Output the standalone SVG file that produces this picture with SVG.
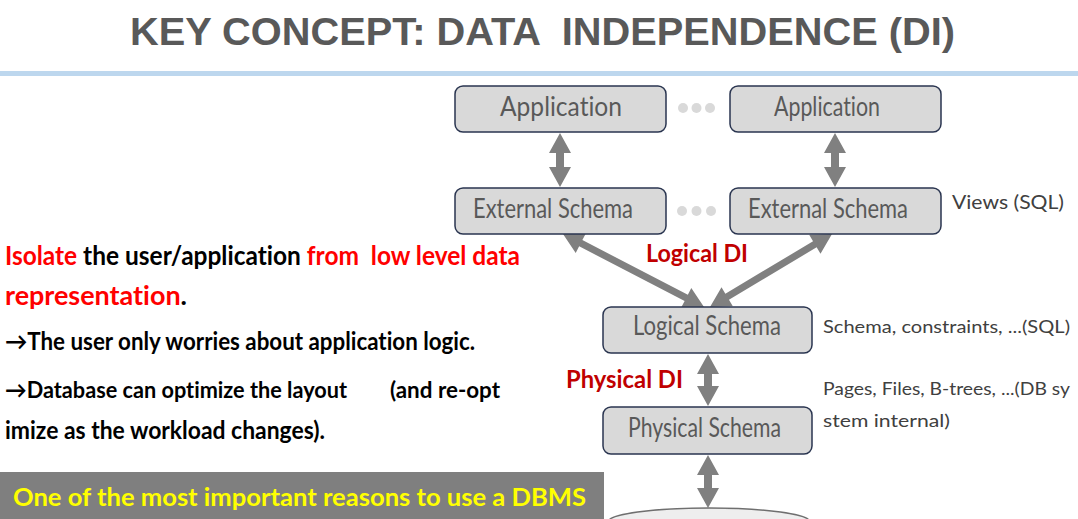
<svg xmlns="http://www.w3.org/2000/svg" width="1078" height="519" viewBox="0 0 1078 519">
<style>
text{font-variant-ligatures:none}
.box{fill:#d9d9d9;stroke:#2a3550;stroke-width:1.5}
.bt{font-family:Lato,"Liberation Sans",sans-serif;font-size:26px;fill:#595959}
.arr{fill:#808080}
.dot{fill:#d9d9d9}
.note{font-family:Lato,"Liberation Sans",sans-serif;font-size:18px;fill:#404040}
.di{font-family:Lato,"Liberation Sans",sans-serif;font-size:24px;font-weight:bold;fill:#c00000}
.lt{font-family:Lato,"Liberation Sans",sans-serif;font-size:26px;font-weight:bold;fill:#000}
.lt2{font-family:Lato,"Liberation Sans",sans-serif;font-size:24px;font-weight:bold;fill:#000}
.lt3{font-family:Lato,"Liberation Sans",sans-serif;font-size:23px;font-weight:bold;fill:#000}
.red{fill:#ff0000}
</style>
<rect width="1078" height="519" fill="#ffffff"/>
<text x="130" y="45" font-family="'Liberation Sans',Arial,sans-serif" font-size="39" font-weight="bold" fill="#595959" textLength="825" lengthAdjust="spacingAndGlyphs" xml:space="preserve">KEY CONCEPT: DATA  INDEPENDENCE (DI)</text>
<rect x="0" y="71" width="1078" height="5" fill="#bdd7ee"/>

<g id="left-text">
<text class="lt" x="5" y="265" textLength="515" lengthAdjust="spacingAndGlyphs" xml:space="preserve"><tspan class="red">Isolate</tspan> the user/application <tspan class="red">from  low level data</tspan></text>
<text class="lt" x="5" y="305" textLength="182" lengthAdjust="spacingAndGlyphs"><tspan class="red">representation</tspan>.</text>
<text class="lt2" x="5" y="350" textLength="470" lengthAdjust="spacingAndGlyphs">→The user only worries about application logic.</text>
<text class="lt3" x="5" y="398" textLength="342" lengthAdjust="spacingAndGlyphs">→Database can optimize the layout</text>
<text class="lt3" x="390" y="398" textLength="110" lengthAdjust="spacingAndGlyphs">(and re-opt</text>
<text class="lt2" x="5" y="439" textLength="320" lengthAdjust="spacingAndGlyphs">imize as the workload changes).</text>
</g>

<g id="callout">
<rect x="0" y="472" width="604" height="47" fill="#7f7f7f"/>
<text x="13" y="506" font-family="Lato,'Liberation Sans',sans-serif" font-size="24" font-weight="bold" fill="#ffff00" textLength="573" lengthAdjust="spacingAndGlyphs">One of the most important reasons to use a DBMS</text>
</g>

<g id="connectors">
<polygon class="arr" points="560,133 571,153 564,153 564,167 571,167 560,187 549,167 556,167 556,153 549,153"/>
<polygon class="arr" points="835,133 846,153 839,153 839,167 846,167 835,187 824,167 831,167 831,153 824,153"/>
<polygon class="arr" points="563,234 575.70,252.96 579.15,246.30 684.63,300.92 681.18,307.58 704,307 691.30,288.04 687.85,294.70 582.37,240.08 585.82,233.42"/>
<polygon class="arr" points="832,234 809.19,234.83 813.04,241.27 725.36,293.73 721.51,287.29 710,307 732.81,306.17 728.96,299.73 816.64,247.27 820.49,253.71"/>
<polygon class="arr" points="708,354 719,374 712,374 712,386 719,386 708,406 697,386 704,386 704,374 697,374"/>
<polygon class="arr" points="708,455 719,475 712,475 712,488 719,488 708,508 697,488 704,488 704,475 697,475"/>
</g>

<g id="dots-app">
<circle class="dot" cx="683" cy="108" r="5"/>
<circle class="dot" cx="696.5" cy="108" r="5"/>
<circle class="dot" cx="710" cy="108" r="5"/>
</g>
<g id="dots-ext">
<circle class="dot" cx="682" cy="211" r="5"/>
<circle class="dot" cx="696.5" cy="211" r="5"/>
<circle class="dot" cx="711" cy="211" r="5"/>
</g>

<g id="app1">
<rect class="box" x="455" y="86" width="211" height="46" rx="8"/>
<text class="bt" x="500" y="116" textLength="122" lengthAdjust="spacingAndGlyphs">Application</text>
</g>
<g id="app2">
<rect class="box" x="730" y="86" width="211" height="46" rx="8"/>
<text class="bt" x="774" y="116" textLength="106" lengthAdjust="spacingAndGlyphs">Application</text>
</g>
<g id="ext1">
<rect class="box" x="455" y="188" width="211" height="46" rx="8"/>
<text class="bt" x="473" y="218" textLength="160" lengthAdjust="spacingAndGlyphs">External Schema</text>
</g>
<g id="ext2">
<rect class="box" x="730" y="188" width="211" height="46" rx="8"/>
<text class="bt" x="748" y="218" textLength="160" lengthAdjust="spacingAndGlyphs">External Schema</text>
</g>
<g id="logical">
<rect class="box" x="603" y="307" width="209" height="46" rx="8"/>
<text class="bt" x="633" y="335" textLength="148" lengthAdjust="spacingAndGlyphs">Logical Schema</text>
</g>
<g id="physical">
<rect class="box" x="603" y="407" width="209" height="47" rx="8"/>
<text class="bt" x="628" y="437" textLength="153" lengthAdjust="spacingAndGlyphs">Physical Schema</text>
</g>
<g id="database">
<ellipse cx="709" cy="522" rx="101" ry="14" fill="#eeeeee" stroke="#6f6f6f" stroke-width="1.5"/>
</g>

<g id="labels">
<text class="note" x="952" y="209" style="font-size:20px" textLength="112" lengthAdjust="spacingAndGlyphs">Views (SQL)</text>
<text class="di" x="646" y="262" textLength="102" lengthAdjust="spacingAndGlyphs">Logical DI</text>
<text class="note" x="823" y="333" textLength="247" lengthAdjust="spacingAndGlyphs">Schema, constraints, ...(SQL)</text>
<text class="di" x="566" y="388" textLength="117" lengthAdjust="spacingAndGlyphs">Physical DI</text>
<text class="note" x="823" y="395" textLength="247" lengthAdjust="spacingAndGlyphs">Pages, Files, B-trees, ...(DB sy</text>
<text class="note" x="823" y="427" textLength="127" lengthAdjust="spacingAndGlyphs">stem internal)</text>
</g>
</svg>
